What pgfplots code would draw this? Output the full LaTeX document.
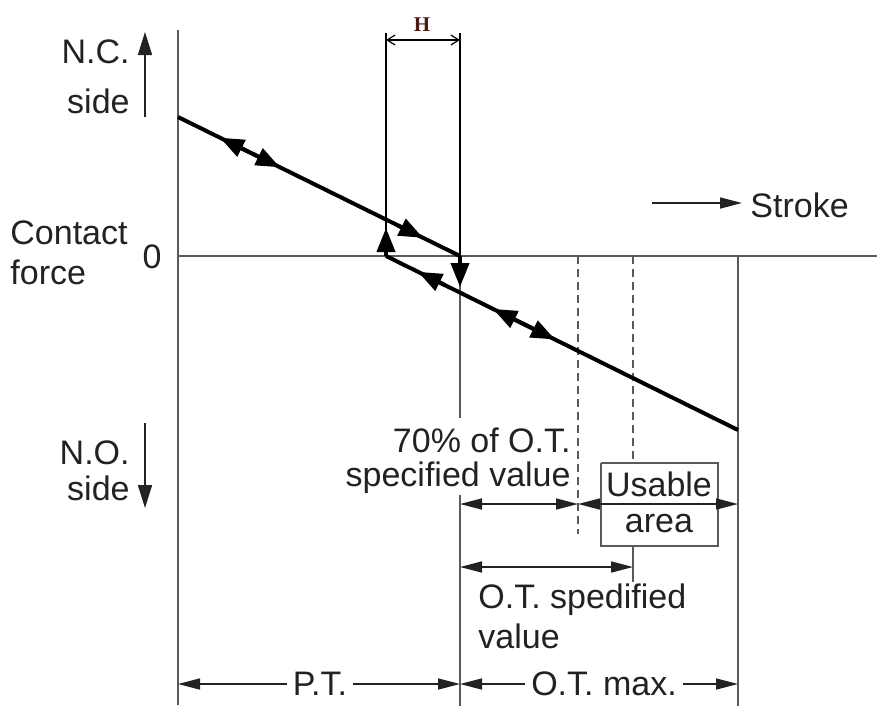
\documentclass[border=0pt]{standalone}
\usepackage{fontspec}
\setmainfont{Liberation Sans}
\newfontfamily\serifb{Liberation Serif}
\usepackage{pgfplots}
\pgfplotsset{compat=1.18}
\usetikzlibrary{arrows.meta}
\definecolor{txt}{HTML}{222222}
\definecolor{ax}{HTML}{5A5A5A}
\definecolor{hcol}{HTML}{4A1A12}
\tikzset{
  lab/.style={font=\fontsize{17}{20}\selectfont, text=txt, inner sep=0pt},
  dim/.style={txt, line width=0.8pt, {Triangle[length=11pt,width=5.5pt]}-{Triangle[length=11pt,width=5.5pt]}},
  sarr/.style={txt, line width=0.8pt, -{Triangle[length=11pt,width=5.5pt]}},
  big/.style={black, line width=2pt, -{Triangle[length=12pt,width=9pt]}},
  bigd/.style={black, line width=2pt, {Triangle[length=12pt,width=9pt]}-{Triangle[length=12pt,width=9pt]}},
}
\begin{document}
\begin{tikzpicture}
\begin{axis}[width=438.5pt,height=354pt,scale only axis,
  xmin=0,xmax=877,ymin=0,ymax=708,y dir=reverse,
  axis lines=none,ticks=none,clip=false]
\path[use as bounding box] (0,0) rectangle (877,708);
% axes
\addplot[ax, line width=1pt] coordinates {(178,30)(178,705)};
\addplot[ax, line width=1pt] coordinates {(178,256)(877,256)};
% verticals
\addplot[black, line width=1pt] coordinates {(386,33)(386,256)};
\addplot[black, line width=1pt] coordinates {(460,33)(460,256)};
\addplot[ax, line width=1pt] coordinates {(460,256)(460,418)};
\addplot[ax, line width=1pt] coordinates {(460,495)(460,706)};
\addplot[ax, line width=1pt] coordinates {(738,256)(738,706)};
\addplot[ax, line width=1pt, dash pattern=on 4pt off 2.5pt] coordinates {(578,256)(578,534)};
\addplot[ax, line width=1pt, dash pattern=on 4pt off 2.5pt] coordinates {(633,256)(633,463)};
\addplot[ax, line width=1pt] coordinates {(633,546)(633,582)};
% H bracket
\addplot[black, line width=0.6pt, {Straight Barb[length=4pt,width=5pt]}-{Straight Barb[length=4pt,width=5pt]}] coordinates {(386,40)(460,40)};
% main lines
\addplot[black, line width=2pt] coordinates {(178,117)(460,256)};
\addplot[black, line width=2pt] coordinates {(386,256)(738,430)};
% direction arrows
\addplot[bigd] coordinates {(220,137.7)(280,167.3)};
\addplot[big] coordinates {(398,225.4)(423,237.8)};
\addplot[big] coordinates {(386,256)(386,228)};
\addplot[big] coordinates {(460,256)(460,287)};
\addplot[big] coordinates {(445,285.2)(418,271.8)};
\addplot[bigd] coordinates {(493,308.9)(555,339.5)};
% usable box
\addplot[ax, line width=1pt] coordinates {(601,463)(718,463)(718,546)(601,546)(601,463)};
% dimension arrows
\addplot[dim] coordinates {(460,504)(578,504)};
\addplot[dim] coordinates {(578,504)(738,504)};
\addplot[dim] coordinates {(460,567)(633,567)};
\addplot[dim] coordinates {(178,684)(460,684)};
\addplot[dim] coordinates {(460,684)(738,684)};
\addplot[sarr] coordinates {(652,203)(742,203)};
\addplot[txt, line width=0.8pt, -{Triangle[length=11.5pt,width=7pt]}] coordinates {(145,117)(145,32)};
\addplot[txt, line width=0.8pt, -{Triangle[length=11.5pt,width=7pt]}] coordinates {(145,423)(145,508)};
% labels
\node[font=\serifb\bfseries\fontsize{10.5}{12}\selectfont, text=hcol, inner sep=0pt] at (422,25) {H};
\node[lab, anchor=east] at (130,52) {N.C.};
\node[lab, anchor=east] at (130,101) {side};
\node[lab, anchor=west] at (10,233) {Contact};
\node[lab, anchor=west] at (10,272) {force};
\node[lab] at (152,257) {0};
\node[lab, anchor=east] at (130,453) {N.O.};
\node[lab, anchor=east] at (130,488) {side};
\node[lab, anchor=west] at (750,205) {Stroke};
\node[lab, anchor=east] at (571,440) {70\% of O.T.};
\node[lab, anchor=east] at (571,478) {specified value};
\node[lab] at (659,484) {Usable};
\node[lab] at (659,524) {area};
\node[lab, anchor=west] at (478,600) {O.T. spedified};
\node[lab, anchor=west] at (478,636) {value};
\node[lab, fill=white, inner xsep=3pt] at (320,684) {P.T.};
\node[lab, fill=white, inner xsep=3pt] at (604,684) {O.T. max.};
\end{axis}
\end{tikzpicture}
\end{document}
